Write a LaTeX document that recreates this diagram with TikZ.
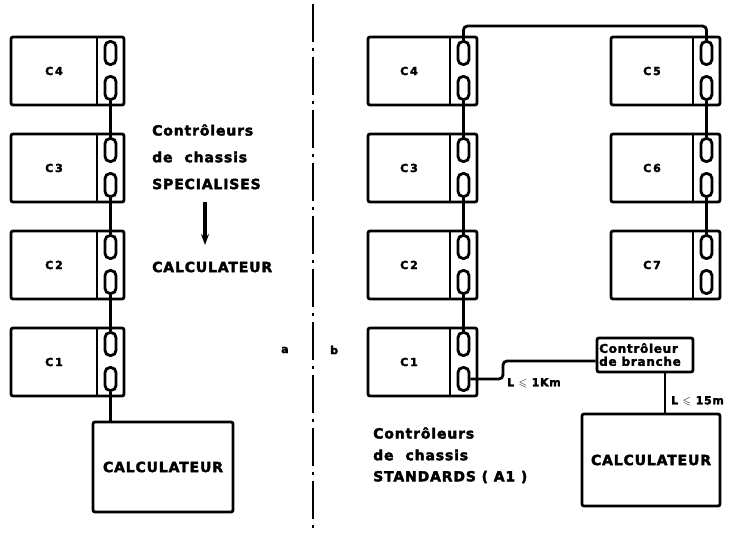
\documentclass[tikz,border=0pt]{standalone}
\usepackage{amssymb}
\usepackage{fontspec}
\newfontfamily\lf{DejaVu Sans}[LetterSpace=6, FakeBold=2.5]
\usetikzlibrary{arrows.meta}
\tikzset{
  wire/.style={line width=2.8pt},
  chbox/.style={draw, line width=2.8pt, rounded corners=2pt, minimum height=68pt, inner sep=0pt},
  oval/.style={draw, line width=2.8pt, rounded corners=5pt, minimum width=11pt, minimum height=23pt, inner sep=0pt},
  lab/.style={font=\lf\bfseries\fontsize{11}{12}\selectfont, inner sep=0pt},
  txt/.style={font=\lf\bfseries\fontsize{14}{16}\selectfont, inner sep=0pt, anchor=west},
  small/.style={font=\lf\bfseries\fontsize{11}{12}\selectfont, inner sep=0pt, anchor=west},
  calcbox/.style={draw, line width=2.8pt, rounded corners=2pt, inner sep=0pt, font=\lf\bfseries\fontsize{14}{16}\selectfont},
}
\newcommand\chassis[5]{% name, left, top, right, label
  \pgfmathsetmacro\cL{#2}\pgfmathsetmacro\cT{#3}\pgfmathsetmacro\cR{#4}%
  \pgfmathsetmacro\cD{#4-27}\pgfmathsetmacro\cB{#3+68}\pgfmathsetmacro\cO{#4-13.5}%
  \pgfmathsetmacro\cW{#4-#2}%
  \node[chbox, minimum width=\cW pt] (#1) at ({(\cL+\cR)/2},{\cT+34}) {};
  \draw[wire] (\cD,\cT) -- (\cD,\cB);
  \node[lab] (#1t) at ({(\cL+\cD)/2},{\cT+34}) {#5};
  \node[oval] (#1u) at (\cO,{\cT+16}) {};
  \node[oval] (#1d) at (\cO,{\cT+51}) {};
}
\begin{document}
\begin{tikzpicture}[x=1pt,y=-1pt]
\useasboundingbox (0,0) rectangle (730,534);
% left column
\chassis{L4}{11}{37}{124}{C\,4}
\chassis{L3}{11}{134}{124}{C\,3}
\chassis{L2}{11}{231}{124}{C\,2}
\chassis{L1}{11}{328}{124}{C\,1}
\node[calcbox, minimum width=140pt, minimum height=90pt] (calcL) at (163,467) {CALCULATEUR};
\draw[wire] (L4d.south) -- (L3u.north);
\draw[wire] (L3d.south) -- (L2u.north);
\draw[wire] (L2d.south) -- (L1u.north);
\draw[wire] (L1d.south) -- (L1d.south |- calcL.north);
% middle text
\node[txt] (m1) at (152,130) {Contrôleurs};
\node[txt] (m2) at (152,157) {de\hspace{12pt}chassis};
\node[txt] (m3) at (152,184) {SPECIALISES};
\node[txt] (m4) at (152,267) {CALCULATEUR};
\coordinate (ar1) at (205,202);
\coordinate (ar2) at (205,245);
\draw[line width=3.2pt, -{Stealth[length=11pt,width=8pt]}] (ar1) -- (ar2);
% separator
\draw[line width=2.6pt, dash pattern=on 38pt off 6pt on 3pt off 6pt] (313,4) -- (313,534);
\node[small] (la) at (281,350) {a};
\node[small] (lb) at (330,350) {b};
% right column
\chassis{R4}{368}{37}{477}{C\,4}
\chassis{R3}{368}{134}{477}{C\,3}
\chassis{R2}{368}{231}{477}{C\,2}
\chassis{R1}{368}{328}{477}{C\,1}
\chassis{R5}{611}{37}{720}{C\,5}
\chassis{R6}{611}{134}{720}{C\,6}
\chassis{R7}{611}{231}{720}{C\,7}
\draw[wire] (R4d.south) -- (R3u.north);
\draw[wire] (R3d.south) -- (R2u.north);
\draw[wire] (R2d.south) -- (R1u.north);
\draw[wire] (R5d.south) -- (R6u.north);
\draw[wire] (R6d.south) -- (R7u.north);
\coordinate (topy) at (0,26);
\draw[wire, rounded corners=4pt] (R4u.north) -- (R4u.north |- topy) -- (R5u.north |- topy) -- (R5u.north);
% branch controller
\node[draw, line width=2.8pt, rounded corners=2pt, minimum width=96pt, minimum height=34pt, inner sep=0pt] (br) at (645,355) {};
\node[font=\lf\bfseries\fontsize{12}{13}\selectfont, inner sep=0pt, anchor=north west, align=left] (brt) at (599,343) {Contrôleur\\[0pt]de branche};
\coordinate (bend) at (503,361);
\draw[wire, rounded corners=4pt] (R1d.east) -- (R1d.east -| bend) -- (bend) -- (br.west |- bend);
\node[calcbox, minimum width=138pt, minimum height=92pt] (calcR) at (651,460) {CALCULATEUR};
\coordinate (vx) at (665,0);
\draw[wire] (br.south -| vx) -- (calcR.north -| vx);
\node[small] (l1) at (507,383) {L $\leqslant$ 1Km};
\node[small] (l2) at (671,401) {L $\leqslant$ 15m};
% bottom text
\node[txt] (s1) at (373,433) {Contrôleurs};
\node[txt] (s2) at (373,455) {de\hspace{12pt}chassis};
\node[txt] (s3) at (373,477) {STANDARDS ( A1 )};
\end{tikzpicture}
\end{document}
